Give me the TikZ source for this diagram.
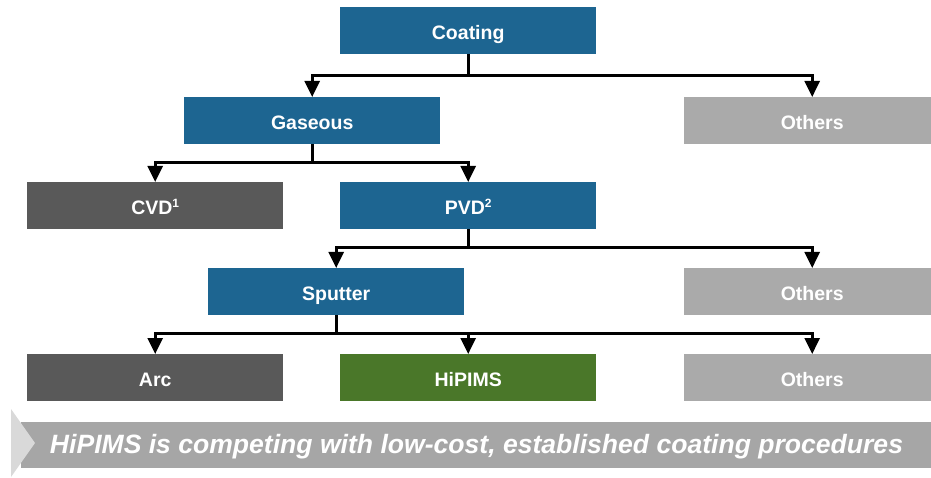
\documentclass[tikz,border=0pt]{standalone}
\usepackage{graphicx}
\usepackage{fontspec}
\setmainfont{Liberation Sans}
\usetikzlibrary{arrows.meta}

\definecolor{tealblue}{RGB}{29,101,145}
\definecolor{darkgrey}{RGB}{89,89,89}
\definecolor{lightgrey}{RGB}{170,170,170}
\definecolor{leafgreen}{RGB}{74,119,41}
\definecolor{bannergrey}{RGB}{166,166,166}
\definecolor{palegrey}{RGB}{217,217,217}

% small raised footnote mark
\newcommand{\fnmark}[1]{\raisebox{6.5pt}{\fontsize{12}{12}\selectfont #1}}

\begin{document}
\begin{tikzpicture}[x=1pt,y=-1pt,
  box/.style={anchor=north west, minimum width=256pt, minimum height=47pt,
    inner sep=0pt, text=white, text height=17pt, text depth=0pt,
    font=\bfseries\fontsize{19.5}{24}\selectfont},
  bluebox/.style={box, fill=tealblue},
  darkbox/.style={box, fill=darkgrey},
  greybox/.style={box, fill=lightgrey},
  greenbox/.style={box, fill=leafgreen},
  stem/.style={line width=2.7pt},
  link/.style={line width=2.7pt, line join=miter,
    -{Triangle[width=15pt,length=16pt]}}]

\clip (0,0) rectangle (931,478);

% level 1
\node[bluebox] (coat) at (340,7) {Coating};
% level 2
\node[bluebox] (gas)  at (184,97) {Gaseous};
\node[greybox] (oth1) at (684,97) {Others};
% level 3
\node[darkbox] (cvd)  at (27,182)  {CVD\fnmark{1}};
\node[bluebox] (pvd)  at (340,182) {PVD\fnmark{2}};
% level 4
\node[bluebox] (sput) at (208,268) {Sputter};
\node[greybox] (oth2) at (684,268) {Others};
% level 5
\node[darkbox]  (arc)  at (27,354)  {Arc};
\node[greenbox] (hip)  at (340,354) {HiPIMS};
\node[greybox]  (oth3) at (684,354) {Others};

% branch points
\coordinate (j1) at (coat.south |- 0,75.5);
\coordinate (j2) at (gas.south  |- 0,162.5);
\coordinate (j3) at (pvd.south  |- 0,247.5);
\coordinate (j4) at (sput.south |- 0,333.5);

\draw[stem] (coat.south) -- (j1);
\draw[link] (j1) -| (gas.north);
\draw[link] (j1) -| (oth1.north);

\draw[stem] (gas.south) -- (j2);
\draw[link] (j2) -| (cvd.north);
\draw[link] (j2) -| (pvd.north);

\draw[stem] (pvd.south) -- (j3);
\draw[link] (j3) -| (sput.north);
\draw[link] (j3) -| (oth2.north);

\draw[stem] (sput.south) -- (j4);
\draw[link] (j4) -| (arc.north);
\draw[link] (j4) -| (hip.north);
\draw[link] (j4) -| (oth3.north);

% closing statement banner
\node[anchor=west, fill=bannergrey, minimum width=910pt, minimum height=46pt,
  inner sep=0pt] (banner) at (21,445) {};
\fill[palegrey] (11,409) -- (35,443) -- (11,477) -- cycle;
\node[anchor=base, inner sep=0pt, text=white,
  font=\bfseries\itshape\fontsize{26.5}{30}\selectfont] (msg) at (476.5,453)
  {\resizebox{853pt}{\height}{HiPIMS is competing with low-cost, established coating procedures}};

\end{tikzpicture}
\end{document}
